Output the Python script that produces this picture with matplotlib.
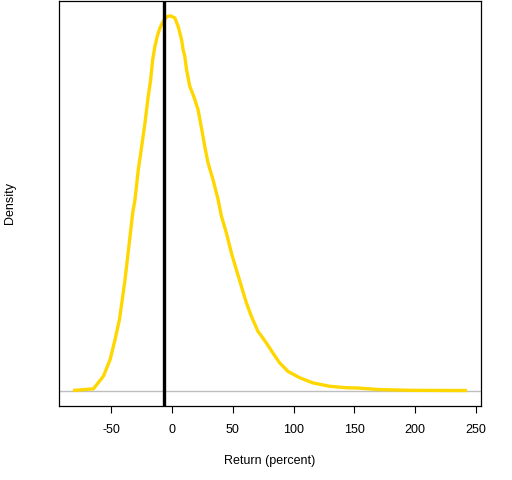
import matplotlib
matplotlib.use("Agg")
import matplotlib.pyplot as plt

plt.rcParams["font.family"] = ["Liberation Sans", "DejaVu Sans"]
plt.rcParams["axes.unicode_minus"] = False

# density estimate of returns (peak scaled to 1)
ret = [-80.3, -64.8, -56.6, -51.1, -47.0, -43.4, -40.7, -38.8, -36.9, -34.7,
       -32.5, -30.6, -27.9, -25.1, -22.4, -19.7, -17.7, -16.1, -14.2, -12.3,
       -10.1, -7.4, -4.1, -1.3, 2.2, 4.9, 6.3, 7.7, 9.0, 10.4,
       11.8, 14.5, 17.2, 18.6, 21.3, 24.1, 26.8, 29.5, 33.6, 37.7,
       40.5, 44.6, 48.7, 52.8, 56.9, 61.0, 65.1, 70.5, 77.4, 82.8,
       88.3, 95.1, 104.7, 115.6, 129.3, 143.0, 153.9, 170.2, 197.5, 241.3]
dens = [0.001, 0.005, 0.039, 0.083, 0.137, 0.190, 0.252, 0.297, 0.350, 0.412,
        0.475, 0.510, 0.590, 0.652, 0.715, 0.786, 0.830, 0.883, 0.919, 0.946,
        0.968, 0.986, 0.999, 1.000, 0.995, 0.972, 0.955, 0.937, 0.910, 0.892,
        0.857, 0.812, 0.790, 0.777, 0.750, 0.701, 0.652, 0.608, 0.563, 0.511,
        0.466, 0.421, 0.368, 0.323, 0.279, 0.235, 0.199, 0.159, 0.128, 0.101,
        0.075, 0.052, 0.035, 0.021, 0.012, 0.008, 0.007, 0.003, 0.001, 0.0005]
actual = -6.6
xticks = [-50, 0, 50, 100, 150, 200, 250]

fig = plt.figure(figsize=(5.12, 4.8), dpi=100)
ax = fig.add_axes([59/512, 1 - 405.7/480, (481 - 59)/512, (405.7 - 1)/480])

ax.axhline(0, color="#bebebe", lw=1)
ax.plot(ret, dens, color="#ffd700", lw=2.4)
ax.axvline(actual, color="black", lw=2.4)

span = ret[-1] - ret[0]
ax.set_xlim(ret[0] - 0.04*span, ret[-1] + 0.04*span)
ax.set_ylim(-0.04, 1.04)

ax.set_xticks(xticks)
ax.set_yticks([])
ax.tick_params(axis="x", length=5, width=0.8, pad=8, labelsize=9)
for s in ax.spines.values():
    s.set_linewidth(0.9)

ax.set_xlabel("Return (percent)", fontsize=9, labelpad=14)
fig.text(10/512, 1 - 203/480, "Density", rotation=90, fontsize=9,
         ha="center", va="center")

fig.savefig("out.png", dpi=100)
